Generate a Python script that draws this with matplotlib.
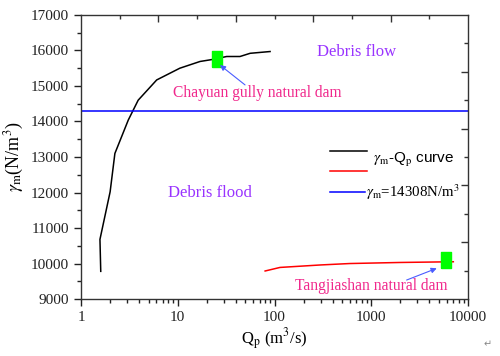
import numpy as np
import matplotlib
matplotlib.use("Agg")
import matplotlib.pyplot as plt
from matplotlib.ticker import MultipleLocator, FixedLocator

# ----- data -----
chayuan_qp = [1.6, 1.57, 2.0, 2.24, 3.08, 3.9, 6.06, 10.5, 17, 23.3, 32, 44, 56, 90]
chayuan_gm = [9780, 10680, 12020, 13100, 14040, 14600, 15170, 15500, 15690, 15750, 15830, 15830, 15920, 15970]

tang_qp = [80, 114, 300, 600, 2000, 7050]
tang_gm = [9790, 9890, 9960, 10000, 10030, 10050]

chayuan_dam = (25.3, 15750)
tang_dam = (5930, 10100)

gm_limit = 14308

plt.rcParams["font.family"] = ["Liberation Serif", "DejaVu Serif"]
plt.rcParams["mathtext.fontset"] = "stix"

AX_POS = [0.162, 0.160, 0.774, 0.798]
EDGE = "#333333"

fig = plt.figure(figsize=(5.0, 3.56), dpi=100)
ax = fig.add_axes(AX_POS)

ax.plot(chayuan_qp, chayuan_gm, color="black", lw=1.1)
ax.plot(tang_qp, tang_gm, color="red", lw=1.1)
ax.axhline(gm_limit, color="#0000ff", lw=1.1)

rect = [(-0.7, -1), (0.7, -1), (0.7, 1), (-0.7, 1), (-0.7, -1)]
for qx, gy in [chayuan_dam, tang_dam]:
    ax.plot(qx, gy, marker=rect, ms=11, color="#00ff00", mec="#00ff00", ls="none")

ax.set_xscale("log")
ax.set_xlim(1, 10000)
ax.set_ylim(9000, 17000)
ax.yaxis.set_major_locator(MultipleLocator(1000))
ax.yaxis.set_minor_locator(MultipleLocator(500))
ax.tick_params(which="both", direction="out", labelsize=11, colors="#222222", width=1)
ax.tick_params(which="major", length=5)
ax.tick_params(which="minor", length=3)
ax.set_xticks([1, 10, 100, 1000, 10000])
ax.set_xticklabels(["1", "10", "100", "1000", "10000"])
for s in ax.spines.values():
    s.set_color(EDGE)
    s.set_linewidth(1.0)

# top and right axes carry their own evenly spaced ticks (Origin style)
ov = fig.add_axes(AX_POS, frameon=False, sharex=None)
ov.set_xlim(0, 4)
ov.set_ylim(9000, 17000)
ov.patch.set_visible(False)
ov.xaxis.set_major_locator(FixedLocator([0.8, 1.6, 2.4, 3.2]))
ov.xaxis.set_minor_locator(FixedLocator([0.4, 1.2, 2.0, 2.8, 3.6]))
ov.yaxis.set_major_locator(FixedLocator([10600, 12200, 13800, 15400]))
ov.yaxis.set_minor_locator(FixedLocator([9800, 11400, 13000, 14600, 16200]))
ov.tick_params(which="both", direction="in", colors=EDGE, width=1,
               top=True, right=True, bottom=False, left=False,
               labeltop=False, labelright=False, labelbottom=False, labelleft=False)
ov.tick_params(which="major", length=5)
ov.tick_params(which="minor", length=3)

ax.set_xlabel(r"Q$_\mathrm{p}$ (m$^3$/s)", fontsize=12, labelpad=2)
ax.set_ylabel(r"$\gamma_\mathrm{m}$(N/m$^3$)", fontsize=13, labelpad=4)

# region labels
ax.text(700, 15960, "Debris flow", color="#9933ff", fontsize=12, ha="center", va="center")
ax.text(7.9, 12000, "Debris flood", color="#9933ff", fontsize=12, ha="left", va="center")

# dam annotations
pink = "#f0288c"
arrow = dict(arrowstyle="-|>", color="#4a5cff", lw=0.8, mutation_scale=8, shrinkA=0, shrinkB=0)
ax.annotate("", xy=(27.3, 15590), xytext=(49.6, 15030), arrowprops=arrow)
ax.text(8.87, 14790, "Chayuan gully natural dam", color=pink, fontsize=11.2, ha="left", va="center")
ax.annotate("", xy=(4750, 9865), xytext=(2320, 9535), arrowprops=arrow)
ax.text(163, 9370, "Tangjiashan natural dam", color=pink, fontsize=11.2, ha="left", va="center")

# legend, drawn by hand like the Origin one
tr = ax.transAxes
ax.plot([0.643, 0.739], [0.521, 0.521], color="black", lw=1.1, transform=tr)
ax.plot([0.643, 0.739], [0.452, 0.452], color="red", lw=1.1, transform=tr)
ax.plot([0.643, 0.734], [0.376, 0.376], color="#0000ff", lw=1.1, transform=tr)
ax.text(0.754, 0.489, r"$\gamma_\mathrm{m}$-Q$_\mathrm{p}$ curve", transform=tr,
        fontsize=11, family=["Liberation Sans", "DejaVu Sans"], va="center")
ax.text(0.736, 0.377, r"$\gamma_\mathrm{m}$=14308N/m$^3$", transform=tr, fontsize=10.7, va="center")

fig.text(0.976, 0.025, "\u21b5", fontsize=7, color="#888888", family="DejaVu Sans", ha="center")

fig.savefig("out.png", dpi=100)
